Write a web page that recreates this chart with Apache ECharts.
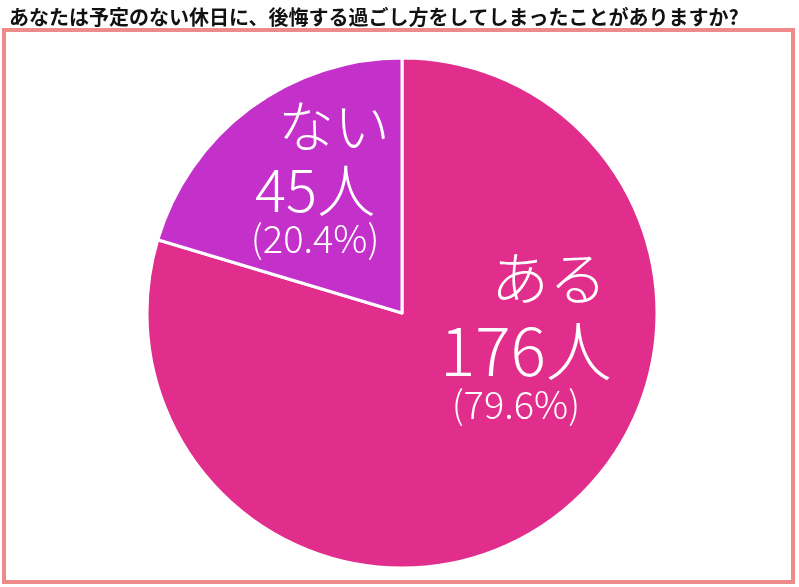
<!DOCTYPE html>
<html><head><meta charset="utf-8">
<script src="https://cdn.jsdelivr.net/npm/echarts@6/dist/echarts.min.js"></script>
<style>html,body{margin:0;padding:0;background:#fff}#c{width:799px;height:587px}</style>
</head><body><div id="c"></div>
<script>
const titleText = 'あなたは予定のない休日に、後悔する過ごし方をしてしまったことがありますか?';
const categories = ['ある', 'ない'];
const counts = [176, 45];
const percents = ['79.6', '20.4'];
const colors = ['#e12e8c', '#c330ca'];
const labelShift = [[46, -86], [-9, -35]];
const bigSize = [58, 56];
const numSize = [66, 58];
const pctSize = [38, 38];
const lineH = [[72, 74, 34], [64, 66, 30]];
const namePad = [[0, 0, 0, 46], [0, 0, 0, 38]];
const pctPad = [[0, 20, 0, 0], [0, 0, 0, 0]];

const chart = echarts.init(document.getElementById('c'), null, {renderer: 'canvas'});
const fontFam = '"Noto Sans CJK JP", "Noto Sans", sans-serif';
chart.setOption({
  animation: false,
  title: {
    text: titleText, left: 4, top: 2,
    textStyle: {fontSize: 20, fontWeight: 'bold', color: '#111', fontFamily: fontFam}
  },
  graphic: [{
    type: 'rect', shape: {x: 4, y: 30, width: 789, height: 552},
    style: {fill: 'none', stroke: '#ee8a8a', lineWidth: 4}, z: 0
  }],
  series: [{
    type: 'pie', center: [402, 313], radius: [0, 255], startAngle: 90, clockwise: true,
    itemStyle: {borderColor: '#fff', borderWidth: 3},
    data: categories.map((c, i) => ({
      name: c, value: counts[i], itemStyle: {color: colors[i]},
      label: {
        rich: {
          a: {fontSize: bigSize[i], color: '#fff', fontFamily: fontFam, fontWeight: 300, lineHeight: lineH[i][0], padding: namePad[i]},
          b: {fontSize: numSize[i], color: '#fff', fontFamily: fontFam, fontWeight: 300, lineHeight: lineH[i][1]},
          c: {fontSize: pctSize[i], color: '#fff', fontFamily: fontFam, fontWeight: 300, lineHeight: lineH[i][2], padding: pctPad[i]}
        }
      }
    })),
    label: {
      show: true, position: 'inside', align: 'center',
      formatter: p => '{a|' + p.name + '}\n{b|' + p.value + '人}\n{c|(' + percents[p.dataIndex] + '%)}'
    },
    labelLine: {show: false},
    labelLayout: p => ({dx: labelShift[p.dataIndex][0], dy: labelShift[p.dataIndex][1]}),
    emphasis: {disabled: true}
  }]
});
</script></body></html>
